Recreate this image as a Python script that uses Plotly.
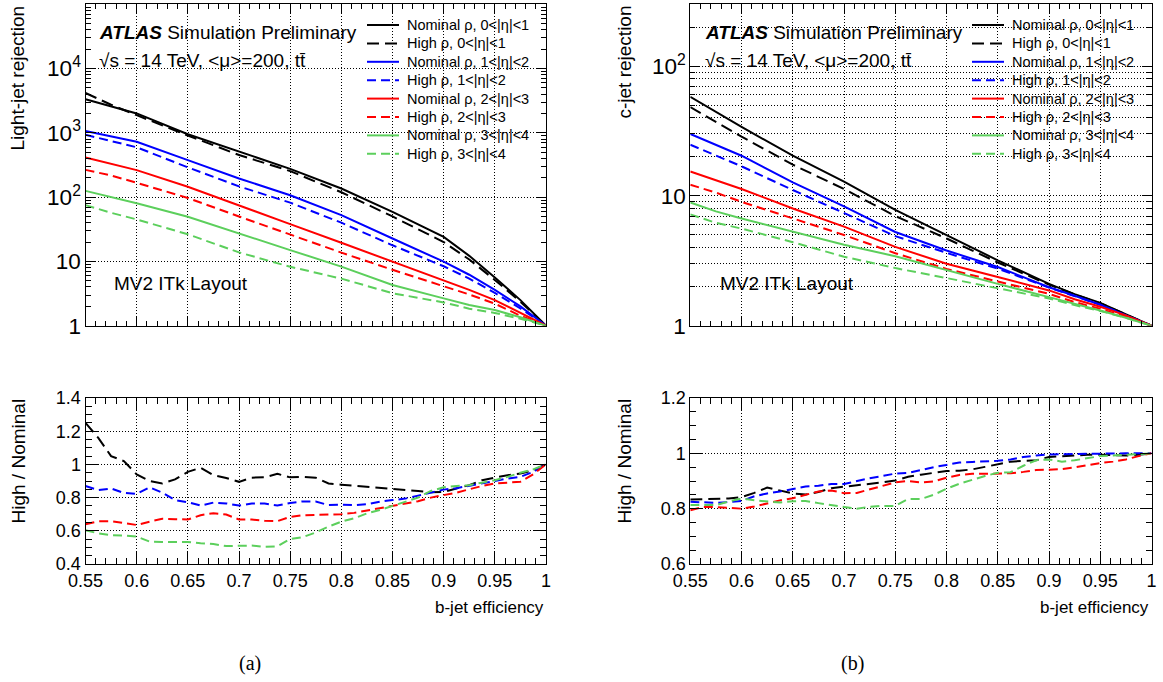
import plotly.graph_objects as go

W, H = 1163, 682

# ---------------- data ----------------
# b-jet efficiency points for the rejection curves
eff = [0.55, 0.575, 0.6, 0.65, 0.7, 0.75, 0.8, 0.85, 0.9, 0.925, 0.95, 0.975, 1.0]

# light-jet rejection (Nominal / High pixel density) per eta region
light_nom_eta01 = [3330, 2600, 2000, 950, 505, 275, 136, 59, 24, 12.2, 5.6, 2.5, 1.0]
light_high_eta01 = [4160, 2730, 1880, 907, 452, 254, 119, 50, 20, 10.7, 5.15, 2.36, 1.0]
light_nom_eta12 = [1070, 880, 724, 376, 195, 107, 52.5, 22.7, 9.9, 6.2, 3.6, 2.0, 1.0]
light_high_eta12 = [931, 752, 595, 290, 147, 82, 40, 17.8, 8.4, 5.4, 3.24, 1.85, 1.0]
light_nom_eta23 = [414, 330, 263, 145, 75, 38, 19.5, 9.9, 5.1, 3.6, 2.5, 1.6, 1.0]
light_high_eta23 = [265, 217, 167, 97, 50, 26, 13.7, 7.4, 4.16, 3.06, 2.2, 1.43, 1.0]
light_nom_eta34 = [125, 100, 80, 49.6, 27, 15, 8.3, 4.3, 2.66, 2.1, 1.75, 1.35, 1.0]
light_high_eta34 = [75, 57, 45, 26.4, 13.8, 8.25, 5.4, 3.2, 2.3, 1.84, 1.58, 1.28, 1.0]

# c-jet rejection
c_nom_eta01 = [58, 44.5, 34, 20.4, 12.9, 7.8, 5.0, 3.19, 2.1, 1.75, 1.5, 1.23, 1.0]
c_high_eta01 = [48.3, 37.1, 28.6, 17.4, 11.3, 7.0, 4.7, 3.07, 2.07, 1.74, 1.49, 1.22, 1.0]
c_nom_eta12 = [30, 24.8, 20.4, 12.7, 8.3, 5.27, 3.8, 2.83, 1.98, 1.7, 1.45, 1.2, 1.0]
c_high_eta12 = [24.8, 20.4, 16.9, 11.1, 7.4, 4.9, 3.64, 2.75, 1.97, 1.7, 1.45, 1.2, 1.0]
c_nom_eta23 = [15.4, 13.1, 11.3, 8.0, 5.8, 4.05, 3.0, 2.37, 1.87, 1.6, 1.4, 1.2, 1.0]
c_high_eta23 = [12.2, 10.6, 9.0, 6.7, 5.0, 3.62, 2.74, 2.19, 1.76, 1.52, 1.35, 1.17, 1.0]
c_nom_eta34 = [8.9, 7.6, 6.7, 5.3, 4.2, 3.43, 2.67, 2.1, 1.66, 1.48, 1.31, 1.15, 1.0]
c_high_eta34 = [7.2, 6.2, 5.6, 4.4, 3.4, 2.78, 2.33, 1.95, 1.62, 1.44, 1.30, 1.15, 1.0]

# b-jet efficiency points for the High / Nominal ratios
eff_ratio = [0.55, 0.5625, 0.575, 0.5875, 0.6, 0.6125, 0.625, 0.6375, 0.65, 0.6625,
             0.675, 0.6875, 0.7, 0.7125, 0.725, 0.7375, 0.75, 0.7625, 0.775, 0.7875,
             0.8, 0.8125, 0.825, 0.8375, 0.85, 0.8625, 0.875, 0.8875, 0.9, 0.9125,
             0.925, 0.9375, 0.95, 0.9625, 0.975, 0.9875, 1.0]

light_ratio_eta01 = [1.25, 1.16, 1.05, 1.02, 0.94, 0.90, 0.885, 0.91, 0.955, 0.98,
                     0.935, 0.918, 0.895, 0.92, 0.922, 0.943, 0.922, 0.925, 0.92, 0.885,
                     0.878, 0.872, 0.868, 0.858, 0.852, 0.846, 0.84, 0.832, 0.835, 0.855,
                     0.875, 0.905, 0.92, 0.935, 0.945, 0.965, 1.0]
light_ratio_eta12 = [0.87, 0.845, 0.855, 0.828, 0.822, 0.862, 0.83, 0.785, 0.772, 0.752,
                     0.77, 0.765, 0.752, 0.764, 0.764, 0.752, 0.768, 0.777, 0.776, 0.755,
                     0.758, 0.755, 0.76, 0.775, 0.785, 0.794, 0.812, 0.832, 0.848, 0.857,
                     0.87, 0.885, 0.9, 0.915, 0.925, 0.955, 1.0]
light_ratio_eta23 = [0.64, 0.657, 0.658, 0.645, 0.635, 0.655, 0.672, 0.67, 0.668, 0.694,
                     0.706, 0.698, 0.668, 0.668, 0.66, 0.658, 0.684, 0.694, 0.696, 0.698,
                     0.70, 0.708, 0.722, 0.735, 0.75, 0.76, 0.778, 0.80, 0.815, 0.83,
                     0.85, 0.87, 0.885, 0.89, 0.895, 0.94, 1.0]
light_ratio_eta34 = [0.603, 0.585, 0.574, 0.572, 0.565, 0.535, 0.533, 0.533, 0.533, 0.525,
                     0.52, 0.508, 0.511, 0.511, 0.503, 0.507, 0.55, 0.562, 0.59, 0.625,
                     0.655, 0.675, 0.705, 0.725, 0.75, 0.775, 0.80, 0.84, 0.862, 0.87,
                     0.875, 0.89, 0.905, 0.925, 0.95, 0.97, 1.0]

c_ratio_eta01 = [0.833, 0.834, 0.834, 0.837, 0.842, 0.857, 0.876, 0.866, 0.855, 0.851,
                 0.86, 0.874, 0.879, 0.885, 0.89, 0.895, 0.902, 0.915, 0.923, 0.93,
                 0.936, 0.937, 0.942, 0.951, 0.961, 0.97, 0.973, 0.975, 0.987, 0.99,
                 0.992, 0.995, 0.995, 0.993, 0.992, 0.995, 1.0]
c_ratio_eta12 = [0.825, 0.823, 0.821, 0.824, 0.828, 0.845, 0.855, 0.862, 0.872, 0.88,
                 0.883, 0.889, 0.889, 0.9, 0.91, 0.918, 0.927, 0.929, 0.94, 0.95,
                 0.958, 0.967, 0.969, 0.971, 0.973, 0.978, 0.987, 0.992, 0.996, 0.997,
                 0.998, 0.998, 0.999, 0.999, 1.0, 1.0, 1.0]
c_ratio_eta23 = [0.794, 0.806, 0.806, 0.803, 0.80, 0.808, 0.82, 0.83, 0.838, 0.85,
                 0.862, 0.866, 0.856, 0.857, 0.87, 0.884, 0.895, 0.9, 0.895, 0.898,
                 0.912, 0.922, 0.926, 0.926, 0.926, 0.928, 0.933, 0.94, 0.941, 0.943,
                 0.949, 0.958, 0.965, 0.97, 0.978, 0.99, 1.0]
c_ratio_eta34 = [0.813, 0.813, 0.813, 0.826, 0.837, 0.83, 0.826, 0.822, 0.827, 0.828,
                 0.82, 0.812, 0.806, 0.80, 0.807, 0.81, 0.81, 0.835, 0.835, 0.85,
                 0.872, 0.89, 0.905, 0.918, 0.93, 0.932, 0.955, 0.975, 0.978, 0.97,
                 0.975, 0.982, 0.99, 0.992, 0.995, 0.997, 1.0]

eta_labels = ["0<|η|<1", "1<|η|<2", "2<|η|<3", "3<|η|<4"]
colors = ["#000000", "#0000ff", "#ff0000", "#5ccf5c"]

# ---------------- styling ----------------
FONT = "Liberation Sans, Arial, Helvetica, sans-serif"
SERIF = "Liberation Serif, Times New Roman, serif"
LW = 2
DOTS = "1px,2px"


def dash_for(i):
    return "12px,6px" if i == 0 else "9px,5px"


def px_x(p):
    return p / W


def px_y(p):
    return 1 - p / H


fig = go.Figure()

light_nom = [light_nom_eta01, light_nom_eta12, light_nom_eta23, light_nom_eta34]
light_high = [light_high_eta01, light_high_eta12, light_high_eta23, light_high_eta34]
c_nom = [c_nom_eta01, c_nom_eta12, c_nom_eta23, c_nom_eta34]
c_high = [c_high_eta01, c_high_eta12, c_high_eta23, c_high_eta34]
light_ratio = [light_ratio_eta01, light_ratio_eta12, light_ratio_eta23, light_ratio_eta34]
c_ratio = [c_ratio_eta01, c_ratio_eta12, c_ratio_eta23, c_ratio_eta34]

for nom, high, xa, ya in [(light_nom, light_high, "x", "y"),
                          (c_nom, c_high, "x3", "y3")]:
    for i in range(4):
        fig.add_trace(go.Scatter(
            x=eff, y=nom[i], mode="lines", xaxis=xa, yaxis=ya, showlegend=False,
            name=f"Nominal ρ, {eta_labels[i]}",
            line=dict(color=colors[i], width=LW)))
        fig.add_trace(go.Scatter(
            x=eff, y=high[i], mode="lines", xaxis=xa, yaxis=ya, showlegend=False,
            name=f"High ρ, {eta_labels[i]}",
            line=dict(color=colors[i], width=LW, dash=dash_for(i))))

for ratios, xa, ya in [(light_ratio, "x2", "y2"), (c_ratio, "x4", "y4")]:
    for i in range(4):
        fig.add_trace(go.Scatter(
            x=eff_ratio, y=ratios[i], mode="lines", xaxis=xa, yaxis=ya,
            showlegend=False, name=f"High / Nominal, {eta_labels[i]}",
            line=dict(color=colors[i], width=LW, dash=dash_for(i))))

# panel frames (pixel coordinates of the plotting areas)
left_x = [px_x(85.5), px_x(546)]
right_x = [px_x(690.3), px_x(1151.5)]
top_y = [px_y(325.7), px_y(4.2)]
bot_y = [px_y(564), px_y(398)]

grid = dict(showgrid=True, gridcolor="#000000", gridwidth=1, griddash=DOTS)
frame = dict(showline=True, linecolor="black", linewidth=1, mirror="allticks",
             ticks="inside", tickcolor="black", zeroline=False, automargin=False,
             tickfont=dict(family=FONT, size=18, color="black"))


def xaxis(domain, anchor, show_labels, ticklen, minorlen):
    return dict(domain=domain, anchor=anchor, range=[0.55, 1.0], dtick=0.05, tick0=0.55,
                ticklen=ticklen, showticklabels=show_labels,
                minor=dict(ticks="inside", ticklen=minorlen, tickcolor="black", dtick=0.01),
                **grid, **frame)


fig.update_layout(
    width=W, height=H, margin=dict(l=0, r=0, t=0, b=0, pad=0),
    paper_bgcolor="white", plot_bgcolor="white",
    font=dict(family=FONT, color="black"),
    showlegend=False,
    xaxis=xaxis(left_x, "y", False, 9, 5),
    xaxis2=xaxis(left_x, "y2", True, 12, 6),
    xaxis3=xaxis(right_x, "y3", False, 9, 5),
    xaxis4=xaxis(right_x, "y4", True, 12, 6),
    yaxis=dict(domain=top_y, anchor="x", type="log", range=[0, 5], dtick=1,
               exponentformat="power", ticklen=10,
               minor=dict(ticks="inside", ticklen=5, tickcolor="black"),
               **grid, **frame),
    yaxis3=dict(domain=top_y, anchor="x3", type="log", range=[0, 2.477], dtick=1,
                exponentformat="power", ticklen=10,
                minor=dict(ticks="inside", ticklen=5, tickcolor="black",
                           showgrid=True, gridcolor="#000000", griddash=DOTS),
                **grid, **frame),
    yaxis2=dict(domain=bot_y, anchor="x2", range=[0.4, 1.4], dtick=0.2, tick0=0.4,
                ticklen=12, minor=dict(ticks="inside", ticklen=6, tickcolor="black", dtick=0.05),
                **grid, **frame),
    yaxis4=dict(domain=bot_y, anchor="x4", range=[0.6, 1.2], dtick=0.2, tick0=0.6,
                ticklen=12, minor=dict(ticks="inside", ticklen=6, tickcolor="black", dtick=0.05),
                **grid, **frame),
)

ann = []
shapes = []


def text(px, py, s, size=19, xanchor="left", yanchor="middle", angle=0, family=FONT):
    ann.append(dict(x=px_x(px), y=px_y(py), xref="paper", yref="paper", text=s,
                    showarrow=False, xanchor=xanchor, yanchor=yanchor, textangle=angle,
                    font=dict(family=family, size=size, color="black")))


# legend boxes drawn inside each upper panel
legend_entries = []
for i in range(4):
    legend_entries.append((f"Nominal ρ, {eta_labels[i]}", colors[i], "solid"))
    legend_entries.append((f"High ρ, {eta_labels[i]}", colors[i], dash_for(i)))

for line_x0 in (367, 972):
    for k, (label, col, dash) in enumerate(legend_entries):
        yc = 25 + 18.4 * k
        shapes.append(dict(type="line", xref="paper", yref="paper",
                           x0=px_x(line_x0), x1=px_x(line_x0 + 32),
                           y0=px_y(yc), y1=px_y(yc),
                           line=dict(color=col, width=LW, dash=dash)))
        text(line_x0 + 38, yc, label, size=14.5)

for x0 in (97, 703):
    text(x0, 33, "<b><i>ATLAS</i></b> Simulation Preliminary", size=19)
    text(x0, 60, "√s = 14 TeV, <μ>=200, tt\u0304", size=19)
for x0 in (112, 718):
    text(x0, 283, "MV2 ITk Layout", size=19)

text(17, 4, "Light-jet rejection", size=19, xanchor="center", yanchor="top", angle=-90)
text(624, 4, "c-jet rejection", size=19, xanchor="center", yanchor="top", angle=-90)
text(18, 397, "High / Nominal", size=19, xanchor="center", yanchor="top", angle=-90)
text(624, 397, "High / Nominal", size=19, xanchor="center", yanchor="top", angle=-90)
text(546, 607, "b-jet efficiency", size=17, xanchor="right")
text(1151, 607, "b-jet efficiency", size=17, xanchor="right")
text(250, 663, "(a)", size=20, xanchor="center", family=SERIF)
text(852, 663, "(b)", size=20, xanchor="center", family=SERIF)

fig.update_layout(annotations=ann, shapes=shapes)

fig.write_html("out.html")

# let the figure sit flush against the window edges
with open("out.html", encoding="utf-8") as f:
    page = f.read()
page = page.replace(
    "<head>",
    "<head><style>html,body{margin:0;padding:0;overflow:hidden;background:white}</style>",
    1)
with open("out.html", "w", encoding="utf-8") as f:
    f.write(page)
